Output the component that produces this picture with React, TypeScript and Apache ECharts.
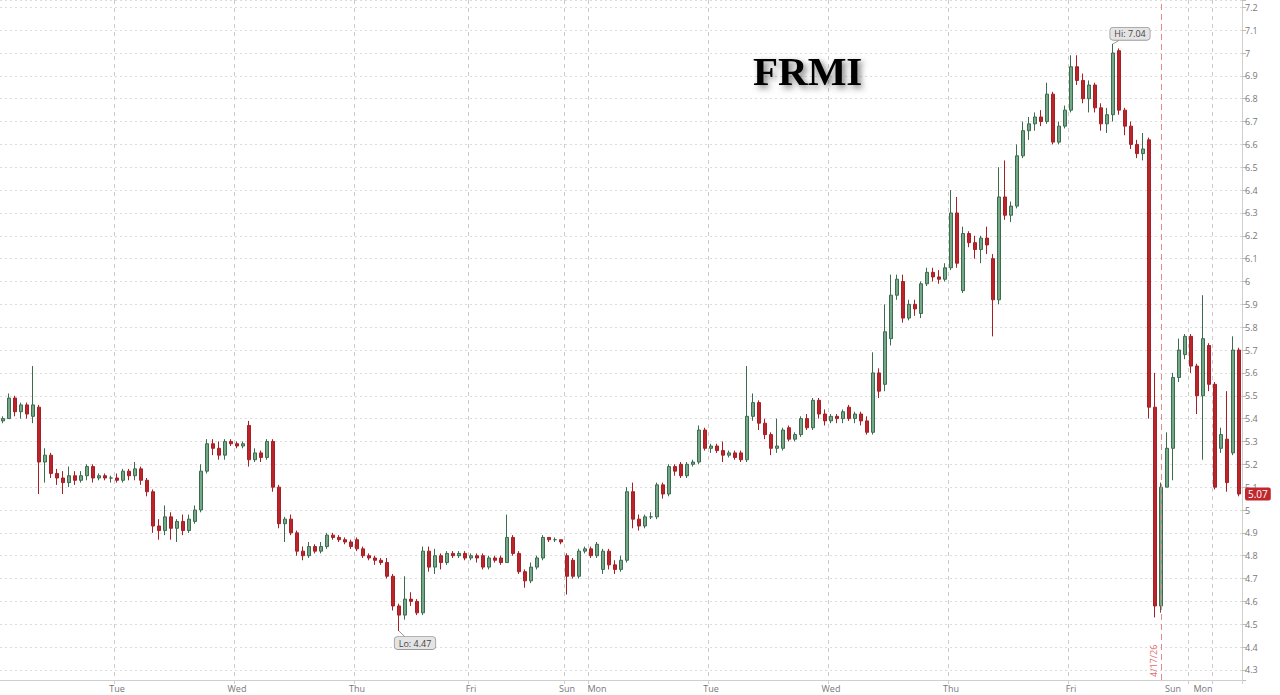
import React, { useEffect, useRef } from 'react';
import * as echarts from 'echarts';

// candle = [open, close, low, high]
type Candle = [number, number, number, number];

const monA: Candle[] = [
  [5.39, 5.40, 5.38, 5.41], [5.40, 5.49, 5.40, 5.51], [5.49, 5.43, 5.41, 5.50], [5.43, 5.46, 5.40, 5.47],
  [5.46, 5.42, 5.40, 5.47], [5.41, 5.46, 5.38, 5.63], [5.45, 5.21, 5.07, 5.46], [5.21, 5.24, 5.12, 5.27],
  [5.24, 5.16, 5.14, 5.25], [5.16, 5.14, 5.11, 5.18], [5.14, 5.12, 5.07, 5.17], [5.12, 5.15, 5.10, 5.19],
  [5.15, 5.13, 5.11, 5.17], [5.13, 5.15, 5.12, 5.17], [5.15, 5.19, 5.13, 5.20], [5.19, 5.14, 5.12, 5.20],
  [5.14, 5.15, 5.13, 5.16], [5.15, 5.14, 5.13, 5.16], [5.14, 5.14, 5.12, 5.15],
];
const tue1: Candle[] = [
  [5.14, 5.13, 5.12, 5.16], [5.13, 5.17, 5.12, 5.18], [5.17, 5.15, 5.13, 5.18], [5.15, 5.18, 5.13, 5.21],
  [5.18, 5.13, 5.11, 5.19], [5.13, 5.08, 5.06, 5.14], [5.08, 4.93, 4.90, 5.09], [4.93, 4.91, 4.87, 4.96],
  [4.91, 4.97, 4.89, 5.02], [4.97, 4.92, 4.87, 4.99], [4.92, 4.95, 4.86, 4.96], [4.95, 4.91, 4.89, 4.98],
  [4.91, 4.96, 4.90, 4.98], [4.95, 5.00, 4.94, 5.02], [5.00, 5.17, 4.99, 5.20], [5.17, 5.29, 5.16, 5.31],
  [5.29, 5.27, 5.24, 5.31], [5.27, 5.24, 5.22, 5.30], [5.24, 5.30, 5.22, 5.31], [5.30, 5.29, 5.28, 5.31],
];
const wed1: Candle[] = [
  [5.29, 5.28, 5.27, 5.30], [5.28, 5.29, 5.27, 5.30], [5.37, 5.22, 5.19, 5.39], [5.22, 5.25, 5.21, 5.27],
  [5.25, 5.23, 5.21, 5.26], [5.23, 5.30, 5.22, 5.31], [5.30, 5.10, 5.08, 5.31], [5.10, 4.94, 4.92, 5.11],
  [4.94, 4.96, 4.86, 4.97], [4.96, 4.90, 4.89, 4.98], [4.90, 4.82, 4.80, 4.91], [4.82, 4.80, 4.78, 4.84],
  [4.80, 4.84, 4.79, 4.86], [4.84, 4.82, 4.81, 4.85], [4.82, 4.84, 4.81, 4.86], [4.84, 4.89, 4.83, 4.90],
  [4.89, 4.88, 4.87, 4.90], [4.88, 4.87, 4.86, 4.89], [4.87, 4.86, 4.85, 4.88], [4.86, 4.84, 4.83, 4.87],
];
const thu1: Candle[] = [
  [4.87, 4.83, 4.82, 4.88], [4.83, 4.80, 4.79, 4.84], [4.80, 4.79, 4.78, 4.81], [4.79, 4.78, 4.76, 4.80],
  [4.78, 4.77, 4.76, 4.79], [4.77, 4.71, 4.70, 4.79], [4.71, 4.58, 4.56, 4.72], [4.58, 4.54, 4.47, 4.59],
  [4.54, 4.61, 4.52, 4.71], [4.61, 4.60, 4.58, 4.64], [4.60, 4.55, 4.54, 4.61], [4.55, 4.82, 4.54, 4.84],
  [4.82, 4.75, 4.73, 4.84], [4.75, 4.80, 4.72, 4.83], [4.80, 4.77, 4.74, 4.81], [4.77, 4.81, 4.76, 4.82],
  [4.81, 4.80, 4.79, 4.82], [4.80, 4.81, 4.79, 4.82], [4.81, 4.79, 4.78, 4.82],
];
const fri1: Candle[] = [
  [4.79, 4.80, 4.78, 4.81], [4.80, 4.79, 4.77, 4.81], [4.80, 4.75, 4.74, 4.81], [4.75, 4.79, 4.74, 4.80],
  [4.79, 4.78, 4.77, 4.80], [4.79, 4.77, 4.76, 4.80], [4.77, 4.88, 4.77, 4.98], [4.88, 4.81, 4.80, 4.89],
  [4.81, 4.73, 4.72, 4.82], [4.73, 4.69, 4.66, 4.74], [4.69, 4.75, 4.68, 4.77], [4.75, 4.79, 4.74, 4.80],
  [4.79, 4.88, 4.78, 4.89], [4.88, 4.87, 4.86, 4.88], [4.87, 4.87, 4.86, 4.88], [4.87, 4.86, 4.85, 4.87],
];
const sun1: Candle[] = [
  [4.80, 4.71, 4.63, 4.81], [4.78, 4.71, 4.70, 4.79], [4.71, 4.82, 4.70, 4.83], [4.82, 4.83, 4.81, 4.84],
];
const mon2: Candle[] = [
  [4.83, 4.80, 4.79, 4.84], [4.80, 4.85, 4.79, 4.86], [4.74, 4.82, 4.72, 4.83], [4.82, 4.76, 4.74, 4.83],
  [4.76, 4.74, 4.72, 4.78], [4.74, 4.78, 4.73, 4.80], [4.78, 5.08, 4.77, 5.10], [5.08, 4.96, 4.92, 5.12],
  [4.96, 4.93, 4.91, 4.98], [4.93, 4.97, 4.92, 4.98], [4.97, 4.97, 4.96, 4.99], [4.97, 5.11, 4.96, 5.12],
  [5.11, 5.07, 5.05, 5.12], [5.07, 5.19, 5.06, 5.20], [5.19, 5.17, 5.15, 5.20], [5.20, 5.15, 5.14, 5.21],
  [5.15, 5.20, 5.14, 5.21], [5.20, 5.21, 5.19, 5.22], [5.21, 5.35, 5.20, 5.37], [5.35, 5.27, 5.26, 5.36],
];
const tue2: Candle[] = [
  [5.27, 5.28, 5.25, 5.29], [5.28, 5.26, 5.25, 5.29], [5.26, 5.24, 5.21, 5.30], [5.24, 5.25, 5.23, 5.26],
  [5.25, 5.23, 5.22, 5.26], [5.25, 5.22, 5.21, 5.26], [5.22, 5.41, 5.21, 5.63], [5.41, 5.47, 5.39, 5.51],
  [5.47, 5.38, 5.35, 5.48], [5.38, 5.33, 5.31, 5.40], [5.33, 5.27, 5.24, 5.34], [5.27, 5.28, 5.25, 5.40],
  [5.27, 5.35, 5.26, 5.36], [5.36, 5.31, 5.30, 5.37], [5.31, 5.33, 5.30, 5.34], [5.33, 5.40, 5.32, 5.41],
  [5.40, 5.36, 5.35, 5.42], [5.36, 5.48, 5.35, 5.49], [5.48, 5.42, 5.40, 5.49], [5.42, 5.39, 5.37, 5.44],
];
const wed2: Candle[] = [
  [5.39, 5.41, 5.38, 5.42], [5.41, 5.40, 5.38, 5.42], [5.40, 5.43, 5.38, 5.44], [5.45, 5.40, 5.39, 5.46],
  [5.40, 5.42, 5.38, 5.43], [5.42, 5.39, 5.37, 5.43], [5.39, 5.34, 5.33, 5.41], [5.34, 5.60, 5.33, 5.69],
  [5.60, 5.52, 5.49, 5.62], [5.55, 5.78, 5.52, 5.90], [5.75, 5.94, 5.72, 6.03], [5.94, 6.01, 5.92, 6.03],
  [6.00, 5.84, 5.82, 6.03], [5.84, 5.90, 5.83, 5.92], [5.90, 5.88, 5.85, 5.92], [5.86, 5.99, 5.84, 6.00],
  [5.99, 6.04, 5.98, 6.06], [6.04, 6.02, 6.00, 6.06], [6.02, 6.01, 5.99, 6.05], [6.01, 6.06, 6.00, 6.08],
];
const thu2: Candle[] = [
  [6.06, 6.30, 6.05, 6.40], [6.30, 6.08, 6.06, 6.37], [5.96, 6.21, 5.95, 6.24], [6.21, 6.17, 6.15, 6.22],
  [6.17, 6.14, 6.10, 6.20], [6.14, 6.19, 6.08, 6.20], [6.19, 6.16, 6.12, 6.24], [6.10, 5.92, 5.76, 6.12],
  [5.92, 6.37, 5.90, 6.50], [6.37, 6.29, 6.27, 6.53], [6.29, 6.33, 6.26, 6.35], [6.33, 6.55, 6.32, 6.60],
  [6.55, 6.66, 6.54, 6.70], [6.66, 6.69, 6.62, 6.72], [6.69, 6.72, 6.66, 6.74], [6.72, 6.70, 6.68, 6.75],
  [6.70, 6.82, 6.69, 6.87], [6.82, 6.61, 6.60, 6.83], [6.61, 6.68, 6.60, 6.70], [6.68, 6.75, 6.67, 6.77],
];
const fri2: Candle[] = [
  [6.75, 6.94, 6.74, 6.99], [6.94, 6.88, 6.86, 6.99], [6.88, 6.80, 6.78, 6.91], [6.80, 6.86, 6.74, 6.88],
  [6.86, 6.76, 6.74, 6.87], [6.76, 6.69, 6.66, 6.78], [6.69, 6.73, 6.65, 6.76], [6.73, 7.00, 6.70, 7.04],
  [7.01, 6.75, 6.73, 7.02], [6.75, 6.68, 6.64, 6.76], [6.68, 6.60, 6.58, 6.70], [6.60, 6.56, 6.54, 6.62],
  [6.56, 6.58, 6.53, 6.65], [6.62, 5.45, 5.40, 6.63], [5.45, 4.58, 4.53, 5.60], [4.58, 5.10, 4.55, 5.12],
];
const sun2: Candle[] = [
  [5.10, 5.27, 5.10, 5.34], [5.27, 5.58, 5.13, 5.60], [5.58, 5.70, 5.56, 5.75], [5.68, 5.76, 5.66, 5.77],
];
const mon3: Candle[] = [
  [5.76, 5.63, 5.60, 5.77], [5.63, 5.50, 5.42, 5.64], [5.50, 5.75, 5.22, 5.94], [5.72, 5.55, 5.52, 5.73],
  [5.55, 5.10, 5.09, 5.56], [5.27, 5.33, 5.25, 5.36], [5.31, 5.12, 5.08, 5.52], [5.25, 5.70, 5.24, 5.76],
  [5.70, 5.07, 5.06, 5.71],
];

const sessionCandles: Candle[][] = [monA, tue1, wed1, thu1, fri1, sun1, mon2, tue2, wed2, thu2, fri2, sun2, mon3];
const sessionNames = ['', 'Tue', 'Wed', 'Thu', 'Fri', 'Sun', 'Mon', 'Tue', 'Wed', 'Thu', 'Fri', 'Sun', 'Mon'];
const labelShift = [0, 0, 0, 0, 0, 0, 1, 0, 0, 0, 0, 1, 2];
const eventLabel = '4/17/26';
const eventSession = 11; // marker sits where the second Sunday session begins
const extraGrid = { session: 12, offset: 4 };

const UP = '#74a688';
const UP_BORDER = '#3a6c4d';
const DOWN = '#b9252b';
const DOWN_BORDER = '#a51f25';

function buildOption() {
  const candles: Candle[] = [];
  const starts: number[] = [];
  sessionCandles.forEach((s) => {
    starts.push(candles.length);
    s.forEach((c) => candles.push(c));
  });
  const cats = candles.map((_, i) => `c${i}`);
  const gridSet = new Set<number>();
  starts.forEach((s, i) => { if (i > 0 && i !== eventSession) gridSet.add(s); });
  gridSet.add(starts[extraGrid.session] + extraGrid.offset);
  const labelMap = new Map<number, string>();
  starts.forEach((s, i) => { if (sessionNames[i]) labelMap.set(s + labelShift[i], sessionNames[i]); });

  let hiIdx = 0, loIdx = 0;
  candles.forEach((c, i) => {
    if (c[3] > candles[hiIdx][3]) hiIdx = i;
    if (c[2] < candles[loIdx][2]) loIdx = i;
  });
  const hi = candles[hiIdx][3];
  const lo = candles[loIdx][2];
  const last = candles[candles.length - 1][1];
  const eventIdx = starts[eventSession] - 1;

  const bubble = {
    show: true,
    fontSize: 9,
    fontFamily: 'Open Sans',
    color: '#444',
    backgroundColor: '#e4e4e4',
    borderColor: '#9a9a9a',
    borderWidth: 0.8,
    borderRadius: 3,
    padding: [2, 4, 1, 4],
  };

  return {
    animation: false,
    backgroundColor: '#ffffff',
    title: {
      text: 'FRMI',
      left: 748,
      top: 45,
      textStyle: {
        fontFamily: 'Liberation Serif',
        fontWeight: 'bold',
        fontSize: 41,
        color: '#000',
        textShadowColor: 'rgba(0,0,0,0.5)',
        textShadowBlur: 6,
        textShadowOffsetX: 3,
        textShadowOffsetY: 3,
      },
    },
    grid: { left: 0, top: 0, width: 1242, height: 680 },
    xAxis: {
      type: 'category',
      data: cats,
      boundaryGap: true,
      axisLine: { show: true, lineStyle: { color: '#cfcfcf' } },
      axisTick: { show: true, interval: (i: number) => gridSet.has(i), length: 4, lineStyle: { color: '#cfcfcf' } },
      axisLabel: {
        interval: (i: number) => labelMap.has(i),
        formatter: (_v: string, i: number) => labelMap.get(i) ?? '',
        color: '#777',
        fontSize: 9,
        fontFamily: 'Open Sans',
        margin: 4,
        hideOverlap: false,
      },
      splitLine: {
        show: true,
        interval: (i: number) => gridSet.has(i),
        lineStyle: { color: '#cccccc', type: [4, 4], width: 1 },
      },
    },
    yAxis: {
      type: 'value',
      position: 'right',
      min: 4.256,
      max: 7.232,
      splitNumber: 30,
      minInterval: 0.1,
      maxInterval: 0.1,
      axisLine: { show: true, lineStyle: { color: '#cfcfcf' } },
      axisTick: { show: true, length: 4, lineStyle: { color: '#bbbbbb' } },
      axisLabel: {
        formatter: (v: number) => (Math.abs(v * 10 - Math.round(v * 10)) < 1e-6 ? String(Number(v.toFixed(1))) : ''),
        color: '#777',
        fontSize: 9,
        fontFamily: 'Open Sans',
        margin: 3,
      },
      splitLine: { show: true, lineStyle: { color: '#dcdcdc', type: [2, 3], width: 1 } },
    },
    series: [
      {
        type: 'candlestick',
        data: candles,
        barWidth: 4,
        itemStyle: {
          color: UP,
          color0: DOWN,
          borderColor: UP_BORDER,
          borderColor0: DOWN_BORDER,
          borderWidth: 1,
        },
        markPoint: {
          silent: true,
          symbol: 'circle',
          symbolSize: 0,
          data: [
            { coord: [cats[hiIdx], hi], label: { ...bubble, formatter: `Hi: ${hi.toFixed(2)}`, offset: [17, -10] } },
            { coord: [cats[loIdx], lo], label: { ...bubble, formatter: `Lo: ${lo.toFixed(2)}`, offset: [16, 12] } },
          ],
        },
        markLine: {
          silent: true,
          symbol: ['none', 'none'],
          label: { show: false },
          data: [
            {
              xAxis: cats[eventIdx],
              lineStyle: { color: '#e58a8a', type: [6, 4], width: 1 },
              label: {
                show: true,
                formatter: eventLabel,
                position: 'insideStartTop',
                color: '#e07070',
                fontSize: 9,
                fontFamily: 'Open Sans',
                distance: 3,
              },
            },
            {
              yAxis: last,
              lineStyle: { color: 'rgba(0,0,0,0)', width: 0 },
              label: {
                show: true,
                position: 'end',
                distance: 3,
                formatter: last.toFixed(2),
                backgroundColor: '#c0272d',
                color: '#fff',
                fontSize: 10,
                fontFamily: 'Open Sans',
                padding: [2, 3, 1, 3],
                borderRadius: 2,
              },
            },
            [
              { coord: [cats[hiIdx], hi], lineStyle: { color: '#999', type: 'solid', width: 1 } },
              { coord: [cats[hiIdx + 1], hi + 0.015] },
            ],
            [
              { coord: [cats[loIdx], lo], lineStyle: { color: '#999', type: 'solid', width: 1 } },
              { coord: [cats[loIdx + 1], lo - 0.025] },
            ],
          ],
        },
      },
    ],
  };
}

export default function App() {
  const ref = useRef<HTMLDivElement>(null);
  useEffect(() => {
    if (!ref.current) return;
    const chart = echarts.init(ref.current, null, { renderer: 'svg' });
    chart.setOption(buildOption() as any);
    return () => chart.dispose();
  }, []);
  return (
    <div
      ref={ref}
      style={{ position: 'fixed', left: 0, top: 0, width: 1280, height: 695, background: '#fff' }}
    />
  );
}
